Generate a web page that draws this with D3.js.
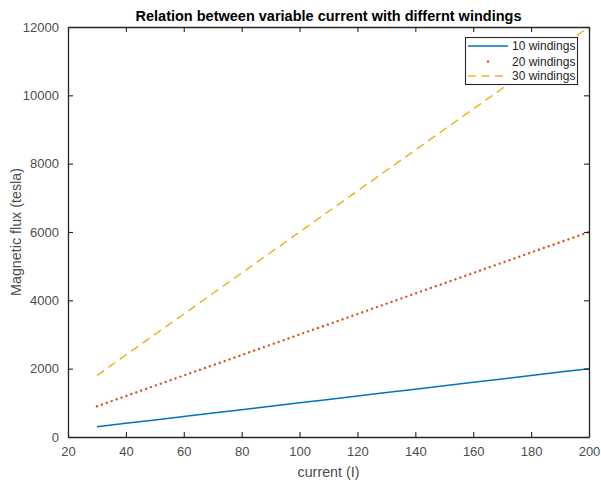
<!DOCTYPE html>
<html>
<head>
<meta charset="utf-8">
<script src="https://cdn.jsdelivr.net/npm/d3@7"></script>
<style>
html,body{margin:0;padding:0;background:#fff;}
svg{display:block;font-family:Arial,"Liberation Sans",Helvetica,sans-serif;}
</style>
</head>
<body>
<svg id="chart" width="601" height="483"></svg>
<script>
const current = [30,40,50,60,70,80,90,100,110,120,130,140,150,160,170,180,190,200];
const flux10 = [300,400,500,600,700,800,900,1000,1100,1200,1300,1400,1500,1600,1700,1800,1900,2000];
const flux20 = [900,1200,1500,1800,2100,2400,2700,3000,3300,3600,3900,4200,4500,4800,5100,5400,5700,6000];
const flux30 = [1800,2400,3000,3600,4200,4800,5400,6000,6600,7200,7800,8400,9000,9600,10200,10800,11400,12000];
const seriesNames = ["10 windings","20 windings","30 windings"];
const xTicks = [20,40,60,80,100,120,140,160,180,200];
const yTicks = [0,2000,4000,6000,8000,10000,12000];

const svg = d3.select("#chart");
const m = {left:68, right:589, top:27, bottom:437};
const x = d3.scaleLinear().domain([20,200]).range([m.left,m.right]);
const y = d3.scaleLinear().domain([0,12000]).range([m.bottom,m.top]);
const axisColor = "#262626", textColor = "#4d4d4d";

// series
const line = d3.line().x((d,i)=>x(current[i])).y(d=>y(d));
const clipId = "plotclip";
svg.append("clipPath").attr("id",clipId).append("rect")
  .attr("x",m.left).attr("y",m.top-1).attr("width",m.right-m.left).attr("height",m.bottom-m.top+1);
const g = svg.append("g").attr("clip-path",`url(#${clipId})`);
g.append("path").datum(flux10).attr("d",line).attr("fill","none")
  .attr("stroke","#0072BD").attr("stroke-width",1.5);
g.append("path").datum(flux20).attr("d",line).attr("fill","none")
  .attr("stroke","#D95319").attr("stroke-width",2.4).attr("stroke-linecap","round")
  .attr("stroke-dasharray","0.01,5.2");
g.append("path").datum(flux30).attr("d",line).attr("fill","none")
  .attr("stroke","#EDB120").attr("stroke-width",1.5)
  .attr("stroke-dasharray","8.5,5.5");

// axes
const fmt = d3.format("d");
const xAxis = svg.append("g").attr("transform",`translate(0,${m.bottom})`)
  .call(d3.axisBottom(x).tickValues(xTicks).tickFormat(fmt).tickSizeInner(-5).tickSizeOuter(0).tickPadding(10));
const yAxis = svg.append("g").attr("transform",`translate(${m.left},0)`)
  .call(d3.axisLeft(y).tickValues(yTicks).tickFormat(fmt).tickSizeInner(-5).tickSizeOuter(0).tickPadding(9));
const xTop = svg.append("g").attr("transform",`translate(0,${m.top})`)
  .call(d3.axisTop(x).tickValues(xTicks).tickFormat("").tickSizeInner(-5).tickSizeOuter(0));
const yRight = svg.append("g").attr("transform",`translate(${m.right},0)`)
  .call(d3.axisRight(y).tickValues(yTicks).tickFormat("").tickSizeInner(-5).tickSizeOuter(0));
[xAxis,yAxis,xTop,yRight].forEach(a=>{
  a.select(".domain").attr("stroke",axisColor).attr("stroke-width",1.3);
  a.selectAll(".tick line").attr("stroke",axisColor).attr("stroke-width",1.1);
  a.selectAll(".tick text").attr("fill",textColor).attr("font-size",13)
    .attr("font-family","Arial, 'Liberation Sans', Helvetica, sans-serif");
});

// labels
svg.append("text").attr("x",(m.left+m.right)/2).attr("y",21).attr("text-anchor","middle")
  .attr("font-weight","bold").attr("font-size",14.5).attr("fill","#000")
  .text("Relation between variable current with differnt windings");
svg.append("text").attr("x",(m.left+m.right)/2).attr("y",477).attr("text-anchor","middle")
  .attr("font-size",14.3).attr("fill",textColor).text("current (I)");
svg.append("text").attr("transform",`translate(21,${(m.top+m.bottom)/2}) rotate(-90)`)
  .attr("text-anchor","middle").attr("font-size",14.3).attr("fill",textColor)
  .text("Magnetic flux (tesla)");

// legend
const lg = svg.append("g");
lg.append("rect").attr("x",465.5).attr("y",37.5).attr("width",112).attr("height",47)
  .attr("fill","#fff").attr("stroke",axisColor).attr("stroke-width",1.1);
const rowsY = [46,61.5,76];
const styles = [
  {c:"#0072BD",dash:null},
  {c:"#D95319",dot:true},
  {c:"#EDB120",dash:"8,5.5"}
];
seriesNames.forEach((n,i)=>{
  const s = styles[i];
  if(s.dot){
    lg.append("circle").attr("cx",488).attr("cy",rowsY[i]).attr("r",1.2).attr("fill",s.c);
  } else {
    lg.append("line").attr("x1",468).attr("x2",508).attr("y1",rowsY[i]).attr("y2",rowsY[i])
      .attr("stroke",s.c).attr("stroke-width",1.5).attr("stroke-dasharray",s.dash);
  }
  lg.append("text").attr("x",512).attr("y",rowsY[i]).attr("dy","0.35em")
    .attr("font-size",12).attr("fill",axisColor).text(n);
});
</script>
</body>
</html>
